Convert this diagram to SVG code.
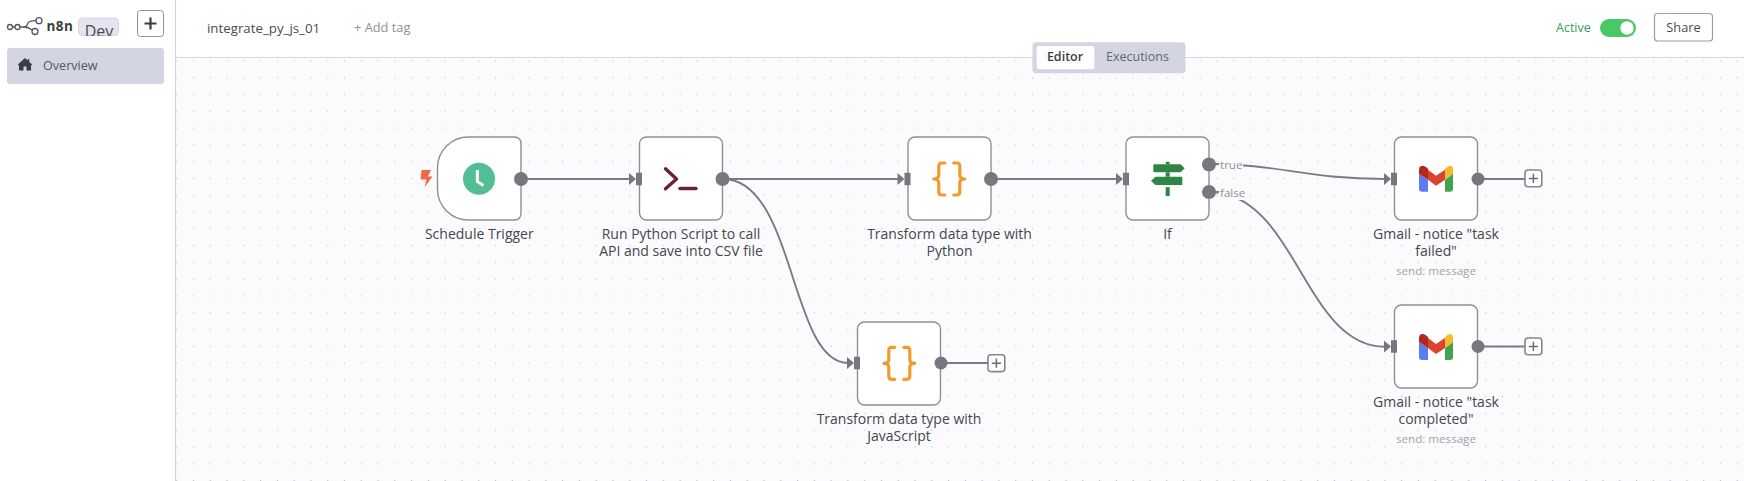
<svg xmlns="http://www.w3.org/2000/svg" width="1744" height="481" viewBox="0 0 1744 481">
<style>
text{font-family:"Open Sans","Noto Sans","Liberation Sans",sans-serif}
.card{fill:#fff;stroke:#8f9097;stroke-width:1.4}
.lbl{font-size:14px;font-weight:500;fill:#45464d;text-anchor:middle}
.sub{font-size:11.6px;fill:#a2a3a9;text-anchor:middle}
.wire{fill:none;stroke:#7b7c83;stroke-width:1.9}
.port{fill:#77787f}
.plabel{font-size:11.6px;fill:#8f9097}
.halo{fill:#fbfbfd}
.plus{fill:#fff;stroke:#85868d;stroke-width:1.6}
.plusm{stroke:#6b6c73;stroke-width:1.5;fill:none}
.brace{fill:none;stroke:#f39a2d;stroke-width:3.2;stroke-linecap:round;stroke-linejoin:round}
</style>
<defs>
<pattern id="dots" x="168.31" y="52.61" width="16.78" height="16.78" patternUnits="userSpaceOnUse"><rect x="7.8" y="7.8" width="1.2" height="1.2" fill="#c3c4cd"/></pattern>
<clipPath id="devclip"><rect x="78" y="17" width="42" height="19"/></clipPath>
<g id="inport"><path d="M-10-6L-3 0L-10 6Z M-3-6.300H3V6.300H-3Z" fill="#77787f"/></g>
<g id="gmail"><path d="M-17-5L-8 1V13H-14Q-17 13-17 10Z" fill="#5b7df2"/><path d="M17-5L9 1V13H14Q17 13 17 10Z" fill="#43a152"/><path d="M-8-9L0-3L9-9V1L0 7L-8 1Z" fill="#d9432f"/><path d="M-17-9Q-17-13-13-13Q-11-13-8-10V1L-17-5Z" fill="#b3271d"/><path d="M9-10Q12-13 14-13Q17-13 17-9V-5L9 1Z" fill="#f1bb2b"/></g>
<g id="braces"><path class="brace" d="M-4.500-16H-7.500Q-10.500-16-10.500-13V-4Q-10.500 0-15.500 0Q-10.500 0-10.500 4V13Q-10.500 16-7.500 16H-4.500"/><path class="brace" d="M4.500-16H7.500Q10.500-16 10.500-13V-4Q10.500 0 15.500 0Q10.500 0 10.500 4V13Q10.500 16 7.500 16H4.500"/></g>
</defs>
<rect width="1744" height="481" fill="#fff"/>
<g id="canvas"><rect x="176" y="58" width="1568" height="423" fill="#fbfbfd"/><rect x="176" y="58" width="1568" height="423" fill="url(#dots)"/></g>
<g id="chrome">
<line x1="175.500" y1="0" x2="175.500" y2="481" stroke="#d5d6e3" stroke-width="1.200"/>
<line x1="176" y1="57.500" x2="1744" y2="57.500" stroke="#d5d6e3" stroke-width="1.200"/>
<g fill="none" stroke="#55565d" stroke-width="1.300"><circle cx="10" cy="27" r="2.500"/><circle cx="17.500" cy="27" r="2.500"/><circle cx="35" cy="31.500" r="3"/><circle cx="39" cy="20.700" r="3"/><path d="M12.500 27H15M20 27H24Q27 27 27.500 24Q28 20.700 36 20.700M24 27Q28 27 32.200 30"/></g>
<text x="46.500" y="31" font-size="13.500" font-weight="700" fill="#3c3d44" letter-spacing=".5">n8n</text>
<rect x="78.500" y="18" width="40" height="17.500" rx="4" fill="#e3e4ef" stroke="#d5d6e3"/>
<text x="99" y="36.800" font-size="16" fill="#4a4b52" text-anchor="middle" clip-path="url(#devclip)">Dev</text>
<rect x="137.500" y="10.500" width="26" height="26" rx="3" fill="#fff" stroke="#8f9097"/>
<path d="M150.500 17.500V29.500M144.500 23.500H156.500" stroke="#3c3d44" stroke-width="2.200"/>
<rect x="7" y="48" width="157" height="36" rx="3" fill="#d3d5e3"/>
<path d="M19 64.500V70.500H23.500V66.500H26.500V70.500H31V64.500L25 59.500Z" fill="#3c3d44"/><path d="M18.300 65L25 59L31.700 65M28.500 59V62" fill="none" stroke="#3c3d44" stroke-width="1.500"/>
<text x="43" y="70" font-size="12.600" fill="#55565d">Overview</text>
<text x="207" y="33" font-size="13.300" fill="#4a4b52">integrate_py_js_01</text>
<text x="354" y="32" font-size="12.800" fill="#8f9097">+ Add tag</text>
<rect x="1032.500" y="42.300" width="153" height="31" rx="3.500" fill="#d3d5e3"/>
<rect x="1036.700" y="46" width="57.600" height="23.300" rx="2.500" fill="#fff"/>
<text x="1065" y="61" font-size="12.500" font-weight="600" fill="#3c3d44" text-anchor="middle">Editor</text>
<text x="1106" y="61" font-size="12.500" font-weight="500" fill="#66676e">Executions</text>
<text x="1556" y="32" font-size="12.500" fill="#3d9b5c">Active</text>
<rect x="1600" y="19" width="36" height="18" rx="9" fill="#49c868"/>
<circle cx="1627" cy="28" r="6.700" fill="#fff"/>
<rect x="1654.500" y="13.500" width="58" height="27.500" rx="3" fill="#fff" stroke="#9c9cb0" stroke-width="1.200"/>
<text x="1683.500" y="32.300" font-size="12.800" font-weight="500" fill="#4a4b52" text-anchor="middle">Share</text>
</g>
<g id="connectors">
<path class="wire" d="M521 179H630"/>
<path class="wire" d="M723 179H898"/>
<path class="wire" d="M991 179H1117"/>
<path class="wire" d="M723 179C795 179 790 363 848 363"/>
<path class="wire" d="M1209 164C1280 164 1305 179 1385 179"/>
<path class="wire" d="M1209 192C1296 192 1304 346.700 1385 346.700"/>
<path class="wire" d="M941 363H988"/>
<path class="wire" d="M1478 179H1525"/>
<path class="wire" d="M1478 346.500H1525"/>
</g>
<g id="schedule-trigger">
<path class="card" d="M468.500 137H514Q521 137 521 144V213Q521 220 514 220H468.500A31 31 0 0 1 437.500 189V168A31 31 0 0 1 468.500 137Z"/>
<circle cx="479" cy="178.700" r="16" fill="#53bd96"/>
<path d="M477.300 170V181.500L483.500 185.500" fill="none" stroke="#fff" stroke-width="3"/>
<path d="M421.500 170H431L428 176.500H432.500L424.500 187.500L426.500 179.500H420.500Z" fill="#f0694a"/>
<circle class="port" cx="521" cy="179" r="7"/>
<text class="lbl" x="479.300" y="239.300">Schedule Trigger</text>
</g>
<g id="run-python">
<rect class="card" x="639.500" y="137" width="83" height="83" rx="7"/>
<path d="M665.500 168.800L676.500 179L665.500 188.800" fill="none" stroke="#6b1f3b" stroke-width="3.400" stroke-linecap="round" stroke-linejoin="round"/>
<path d="M680 188.500H696" stroke="#6b1f3b" stroke-width="3.400" stroke-linecap="round"/>
<use href="#inport" transform="translate(639 179)"/>
<circle class="port" cx="722.500" cy="179" r="7"/>
<text class="lbl" x="681" y="239.300">Run Python Script to call</text>
<text class="lbl" x="681" y="256">API and save into CSV file</text>
</g>
<g id="transform-python">
<rect class="card" x="908" y="137" width="83" height="83" rx="7"/>
<use href="#braces" transform="translate(949.300 179)"/>
<use href="#inport" transform="translate(907.500 179)"/>
<circle class="port" cx="991" cy="179" r="7"/>
<text class="lbl" x="949.500" y="239.300">Transform data type with</text>
<text class="lbl" x="949.500" y="256">Python</text>
</g>
<g id="if">
<rect class="card" x="1126" y="137" width="83" height="83" rx="7"/>
<path d="M1165.800 161.700H1169.600V164.300H1165.800ZM1165.700 172.300H1169.700V176.700H1165.700ZM1165.700 187.300H1169.700V196H1165.700Z" fill="#2e8544"/>
<path d="M1153.300 165.500Q1153.300 164.300 1155 164.300H1180.500L1184.700 168.300L1180.500 172.300H1155Q1153.300 172.300 1153.300 171Z" fill="#2e8544"/>
<path d="M1182.300 176.700V185H1155.500L1151 180.800L1155.500 176.700Z" fill="#2e8544"/>
<use href="#inport" transform="translate(1126 179)"/>
<rect class="halo" x="1218" y="156" width="25" height="16"/>
<rect class="halo" x="1218" y="184" width="27" height="16"/>
<line class="wire" x1="1214" y1="164" x2="1219" y2="164" stroke-width="1"/>
<line class="wire" x1="1214" y1="192" x2="1219" y2="192" stroke-width="1"/>
<circle class="port" cx="1209" cy="164.500" r="7"/>
<circle class="port" cx="1209" cy="192" r="7"/>
<text class="plabel" x="1220" y="168.500">true</text>
<text class="plabel" x="1220" y="196.500">false</text>
<text class="lbl" x="1167.500" y="239.300">If</text>
</g>
<g id="gmail-failed">
<rect class="card" x="1394.500" y="137" width="83" height="83" rx="7"/>
<use href="#gmail" transform="translate(1436 178.700)"/>
<use href="#inport" transform="translate(1394 179)"/>
<circle class="port" cx="1478" cy="179" r="6.500"/>
<rect class="plus" x="1525" y="170" width="16.800" height="16.800" rx="3"/><path class="plusm" d="M1533.400 173.800V183M1528.800 178.400H1538"/>
<text class="lbl" x="1436" y="239.300">Gmail - notice "task</text>
<text class="lbl" x="1436" y="256">failed"</text>
<text class="sub" x="1436" y="275">send: message</text>
</g>
<g id="gmail-completed">
<rect class="card" x="1394.500" y="305" width="83" height="83" rx="7"/>
<use href="#gmail" transform="translate(1436 347)"/>
<use href="#inport" transform="translate(1394 346.500)"/>
<circle class="port" cx="1478" cy="346.500" r="6.500"/>
<rect class="plus" x="1525" y="338" width="16.800" height="16.800" rx="3"/><path class="plusm" d="M1533.400 341.800V351M1528.800 346.400H1538"/>
<text class="lbl" x="1436" y="407">Gmail - notice "task</text>
<text class="lbl" x="1436" y="424">completed"</text>
<text class="sub" x="1436" y="443">send: message</text>
</g>
<g id="transform-js">
<rect class="card" x="857.500" y="322" width="83" height="83" rx="7"/>
<use href="#braces" transform="translate(899.300 363.300)"/>
<use href="#inport" transform="translate(857 363)"/>
<circle class="port" cx="941" cy="363" r="6.500"/>
<rect class="plus" x="988" y="354.800" width="16.800" height="16.800" rx="3"/><path class="plusm" d="M996.400 358.600V367.800M991.800 363.200H1001"/>
<text class="lbl" x="899" y="424">Transform data type with</text>
<text class="lbl" x="899" y="441">JavaScript</text>
</g>
</svg>
